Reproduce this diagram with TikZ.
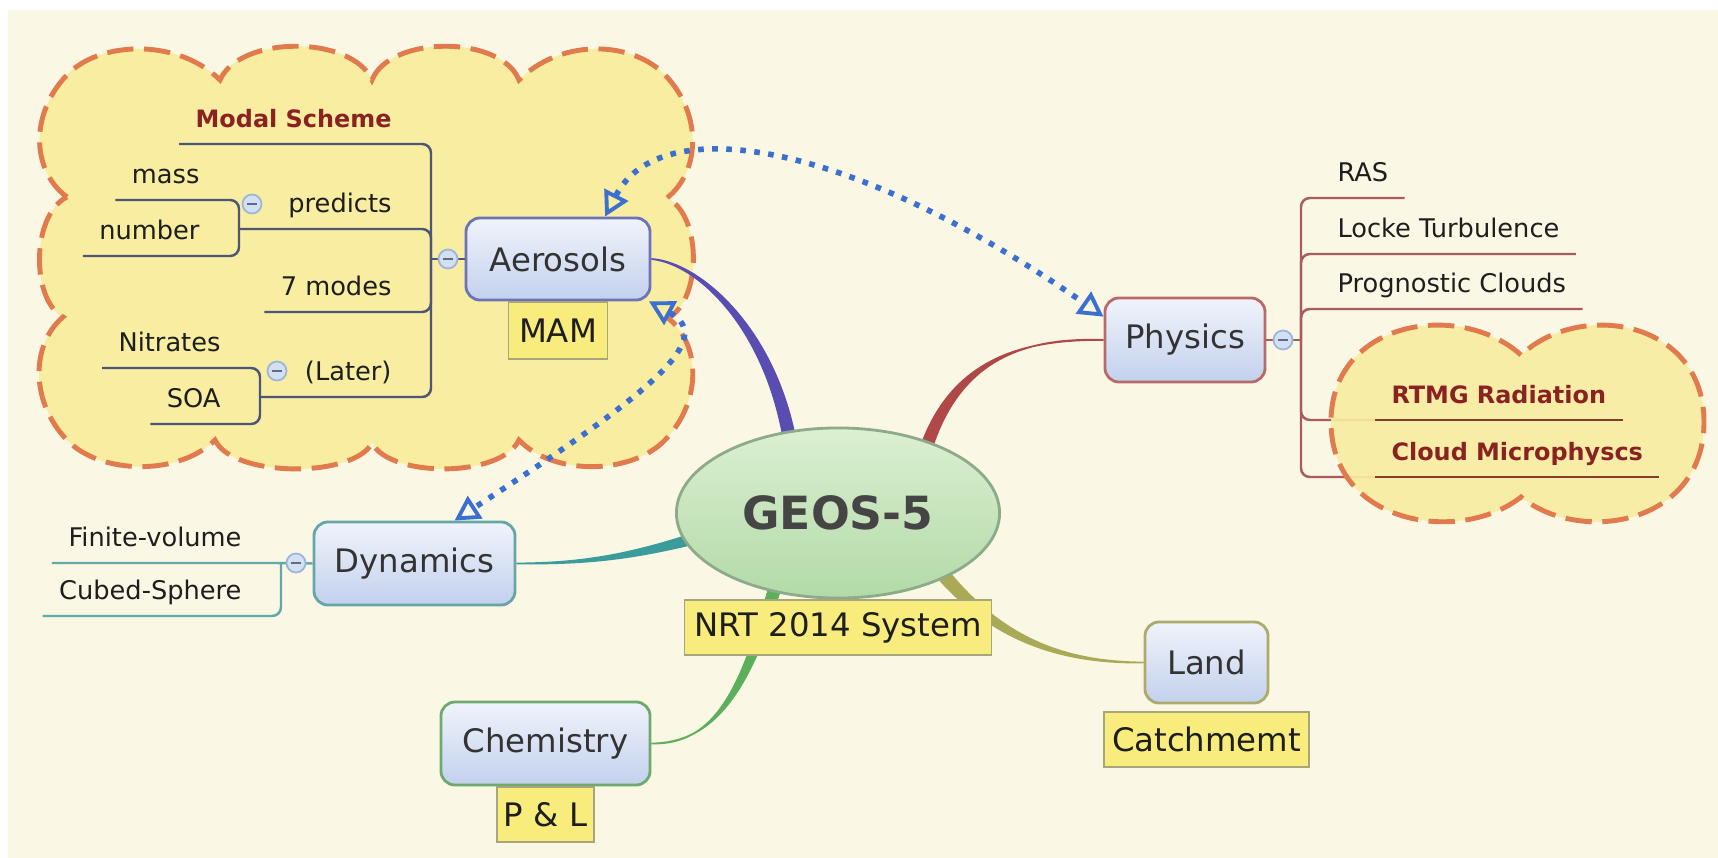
\documentclass[tikz,border=0pt]{standalone}
\usepackage{fontspec}
\setmainfont{DejaVu Sans}
\usetikzlibrary{shapes.geometric,arrows.meta,calc}
\pgfdeclarelayer{paper}
\pgfdeclarelayer{links}
\pgfsetlayers{paper,links,main}
\definecolor{paper}{HTML}{FBF7E5}
\definecolor{cloudfill}{HTML}{F8EDA0}
\definecolor{cloudline}{HTML}{E17A4C}
\definecolor{boxtop}{HTML}{F0F3FA}
\definecolor{boxbot}{HTML}{C3D1EE}
\definecolor{topictext}{HTML}{333333}
\definecolor{subtext}{HTML}{1E1E1E}
\definecolor{keyred}{HTML}{8A2222}
\definecolor{keyline}{HTML}{8A3A2A}
\definecolor{tagfill}{HTML}{F8EC7C}
\definecolor{tagline}{HTML}{A8A47E}
\definecolor{geostop}{HTML}{DCEFD2}
\definecolor{geosbot}{HTML}{B2DAA8}
\definecolor{geosline}{HTML}{8DAA8A}
\definecolor{geostext}{HTML}{454545}
\definecolor{aerobr}{HTML}{5A4DB2}
\definecolor{aeroline}{HTML}{4E5678}
\definecolor{aeroedge}{HTML}{6C73B8}
\definecolor{physbr}{HTML}{B04848}
\definecolor{physline}{HTML}{A85C5C}
\definecolor{physedge}{HTML}{B86A6A}
\definecolor{dynbr}{HTML}{3B9C9C}
\definecolor{dynline}{HTML}{62A9A9}
\definecolor{dynedge}{HTML}{66A6A6}
\definecolor{chembr}{HTML}{5CB05C}
\definecolor{chemedge}{HTML}{6DAA6D}
\definecolor{landbr}{HTML}{A9A956}
\definecolor{landedge}{HTML}{ABAB6A}
\definecolor{linkblue}{HTML}{3B6FD0}
\definecolor{btnfill}{HTML}{D3E0F3}
\definecolor{btnline}{HTML}{9CB5DC}

\begin{document}
\begin{tikzpicture}[x=0.01cm, y=-0.01cm,
    topic/.style={draw=#1, line width=0.8pt, rounded corners=4pt, top color=boxtop, bottom color=boxbot,
        inner sep=0pt, text=topictext, font=\fontsize{9.2pt}{11pt}\selectfont},
    tag/.style={draw=tagline, line width=0.5pt, fill=tagfill, inner sep=0pt, anchor=north,
        minimum height=0.55cm, text=subtext, font=\fontsize{9.2pt}{11pt}\selectfont},
    sub/.style={inner xsep=4.5pt, inner ysep=4.5pt, text depth=0pt, text=subtext,
        font=\fontsize{7.3pt}{9pt}\selectfont},
    keysub/.style={sub, text=keyred, font=\fontsize{6.8pt}{9pt}\selectfont\bfseries},
    btn/.style={circle, draw=btnline, fill=btnfill, line width=0.5pt, minimum size=0.19cm, inner sep=0pt,
        path picture={\draw[btnline!60!black, line width=0.5pt]
            ([xshift=-1.5pt]path picture bounding box.center) -- ([xshift=1.5pt]path picture bounding box.center);}},
    branch/.style={fill=#1, draw=#1, line width=0.5pt},
    bracket/.style={draw=#1, line width=0.7pt, rounded corners=2.5pt},
    bubble/.style={draw=cloudline, fill=cloudfill, line width=1.4pt, dash pattern=on 7.5pt off 3pt},
    link/.style={draw=linkblue, line width=1.6pt, dash pattern=on 1.6pt off 2.4pt,
        arrows={Triangle[open,length=7pt,width=7.5pt,line width=1.1pt]-Triangle[open,length=7pt,width=7.5pt,line width=1.1pt]}}]
    \useasboundingbox (0,0) rectangle (1718,858);

    \begin{pgfonlayer}{paper}
    \fill[white] (0,0) rectangle (1718,858);
    \fill[paper] (8,10) rectangle (1718,858);
    % cloud round the aerosol topics
    \draw[bubble] (67,197) .. controls (30,170) and (30,110) .. (70,72)
        .. controls (105,40) and (180,40) .. (220,80)
        .. controls (240,35) and (352,35) .. (372,80)
        .. controls (390,35) and (501,35) .. (519,80)
        .. controls (559,40) and (627,40) .. (662,72)
        .. controls (702,110) and (702,170) .. (667,198)
        .. controls (702,215) and (702,300) .. (668,318)
        .. controls (702,345) and (702,405) .. (662,443)
        .. controls (627,475) and (552,475) .. (519,440)
        .. controls (501,478) and (390,478) .. (372,443)
        .. controls (354,478) and (233,478) .. (215,440)
        .. controls (180,475) and (105,475) .. (70,443)
        .. controls (30,405) and (30,345) .. (63,317)
        .. controls (31,300) and (31,215) .. (67,197) -- cycle;
    \end{pgfonlayer}

    % main topics
    \node[ellipse, draw=geosline, line width=0.8pt, top color=geostop, bottom color=geosbot,
        minimum width=3.23cm, minimum height=1.70cm, inner sep=0pt, text=geostext,
        font=\fontsize{13pt}{15pt}\selectfont\bfseries] (geos) at (838,513) {GEOS-5};
    \node[topic=aeroedge, minimum width=1.84cm, minimum height=0.82cm] (aero) at (558,259) {Aerosols};
    \node[topic=physedge, minimum width=1.60cm, minimum height=0.84cm] (phys) at (1185,340) {Physics};
    \node[topic=dynedge, minimum width=2.01cm, minimum height=0.83cm] (dyn) at (414.5,563.5) {Dynamics};
    \node[topic=chemedge, minimum width=2.09cm, minimum height=0.83cm] (chem) at (545.5,743.5) {Chemistry};
    \node[topic=landedge, minimum width=1.23cm, minimum height=0.81cm] (land) at (1206.5,662.5) {Land};

    \node[tag, minimum width=0.99cm, minimum height=0.57cm] (mam) at (aero.south) {MAM};
    \node[tag, minimum width=3.07cm] (nrt) at (geos.south) {NRT 2014 System};
    \node[tag, minimum width=0.97cm] (pl) at (chem.south) {P \& L};
    \node[tag, minimum width=2.05cm] (catch) at ([yshift=-2]land.south) {Catchmemt};

    \begin{pgfonlayer}{links}
    \coordinate (aeroEnd) at ($(geos.126)!0.2!(geos.center)$);
    \coordinate (physEnd) at ($(geos.32)!0.2!(geos.center)$);
    \coordinate (dynEnd) at ($(geos.189)!0.2!(geos.center)$);
    \coordinate (chemEnd) at ($(geos.226)!0.2!(geos.center)$);
    \coordinate (landEnd) at ($(geos.333)!0.2!(geos.center)$);
    \filldraw[branch=aerobr] (aero.east) .. controls (700,262) and (778,330) .. ($(aeroEnd)+(6,0)$)
        -- ($(aeroEnd)+(-6,0)$) .. controls (768,332) and (700,264) .. (aero.east) -- cycle;
    \filldraw[branch=physbr] (phys.west) .. controls (1020,337) and (955,362) .. ($(physEnd)+(6,0)$)
        -- ($(physEnd)+(-6,0)$) .. controls (945,360) and (1020,339) .. (phys.west) -- cycle;
    \filldraw[branch=dynbr] (dyn.east) .. controls (580,563) and (630,556) .. ($(dynEnd)+(0,-6)$)
        -- ($(dynEnd)+(0,6)$) .. controls (630,561) and (580,564) .. (dyn.east) -- cycle;
    \filldraw[branch=chembr] (chem.east) .. controls (715,743) and (752,690) .. ($(chemEnd)+(6,0)$)
        -- ($(chemEnd)+(-6,0)$) .. controls (742,690) and (715,745) .. (chem.east) -- cycle;
    \filldraw[branch=landbr] (land.west) .. controls (1050,662) and (990,628) .. ($(landEnd)+(5,-4)$)
        -- ($(landEnd)+(-5,4)$) .. controls (982,634) and (1050,664) .. (land.west) -- cycle;
    \end{pgfonlayer}

    % aerosol subtopics
    \node[keysub, anchor=south east] (modal) at (408,144) {Modal Scheme};
    \node[sub, anchor=south east] (pred) at (408,229) {predicts};
    \node[sub, anchor=south east] (modes) at (408,312) {7 modes};
    \node[sub, anchor=south east] (later) at (408,397) {(Later)};
    \node[sub, anchor=south east] (mass) at (216,200) {mass};
    \node[sub, anchor=south east] (number) at (216,256) {number};
    \node[sub, anchor=south east] (nitr) at (237,368) {Nitrates};
    \node[sub, anchor=south east] (soa) at (237,424) {SOA};
    \coordinate (aeroHub) at (431,259);
    \coordinate (predHub) at (239,229);
    \coordinate (laterHub) at (260,397);
    \draw[bracket=aeroline] (aero.west) -- (aeroHub);
    \draw[bracket=aeroline] (aeroHub) |- (modal.south west);
    \draw[bracket=aeroline] (aeroHub) |- (predHub);
    \draw[bracket=aeroline] (aeroHub) |- (modes.south west);
    \draw[bracket=aeroline] (aeroHub) |- (laterHub);
    \draw[bracket=aeroline] (predHub) |- (mass.south west);
    \draw[bracket=aeroline] (predHub) |- (number.south west);
    \draw[bracket=aeroline] (laterHub) |- (nitr.south west);
    \draw[bracket=aeroline] (laterHub) |- (soa.south west);
    \node[btn] (aeroBtn) at (448,259) {};
    \node[btn] (predBtn) at (252,204) {};
    \node[btn] (laterBtn) at (277,371) {};

    % physics subtopics
    \node[sub, anchor=south west] (ras) at (1321,198) {RAS};
    \node[sub, anchor=south west] (locke) at (1321,254) {Locke Turbulence};
    \node[sub, anchor=south west] (progn) at (1321,309) {Prognostic Clouds};
    \node[keysub, anchor=south west] (rtmg) at (1375,420) {RTMG Radiation};
    \node[keysub, anchor=south west] (micro) at (1375,477) {Cloud Microphyscs};
    \coordinate (physHub) at (1301,340);
    \draw[bracket=physline] (phys.east) -- (physHub);
    \draw[bracket=physline] (physHub) |- (ras.south east);
    \draw[bracket=physline] (physHub) |- (locke.south east);
    \draw[bracket=physline] (physHub) |- (progn.south east);
    \begin{pgfonlayer}{links}
    \draw[bracket=physline] (physHub) |- (rtmg.south west);
    \draw[bracket=physline] (physHub) |- (micro.south west);
    \draw[bubble, fill opacity=0.9] (1521,355) .. controls (1460,300) and (1331,320) .. (1331,422)
        .. controls (1331,525) and (1460,545) .. (1521,497)
        .. controls (1580,545) and (1704,525) .. (1704,422)
        .. controls (1704,320) and (1580,300) .. (1521,355) -- cycle;
    \end{pgfonlayer}
    \draw[keyline, line width=0.7pt] (rtmg.south west) -- (rtmg.south east);
    \draw[keyline, line width=0.7pt] (micro.south west) -- (micro.south east);
    \node[btn] (physBtn) at (1283,340) {};

    % dynamics subtopics
    \node[sub, anchor=south east] (finvol) at (258,563) {Finite-volume};
    \node[sub, anchor=south east] (cubed) at (258,616) {Cubed-Sphere};
    \coordinate (dynHub) at (281,563);
    \draw[bracket=dynline] (dyn.west) -- (dynHub) -- (finvol.south west);
    \draw[bracket=dynline] (dynHub) |- (cubed.south west);
    \node[btn] (dynBtn) at (296,563) {};

    % relations
    \draw[link] (aero.42) .. controls (660,110) and (850,140) .. (phys.164);
    \draw[link] (aero.335) .. controls (720,340) and (640,400) .. (dyn.47);
\end{tikzpicture}
\end{document}
